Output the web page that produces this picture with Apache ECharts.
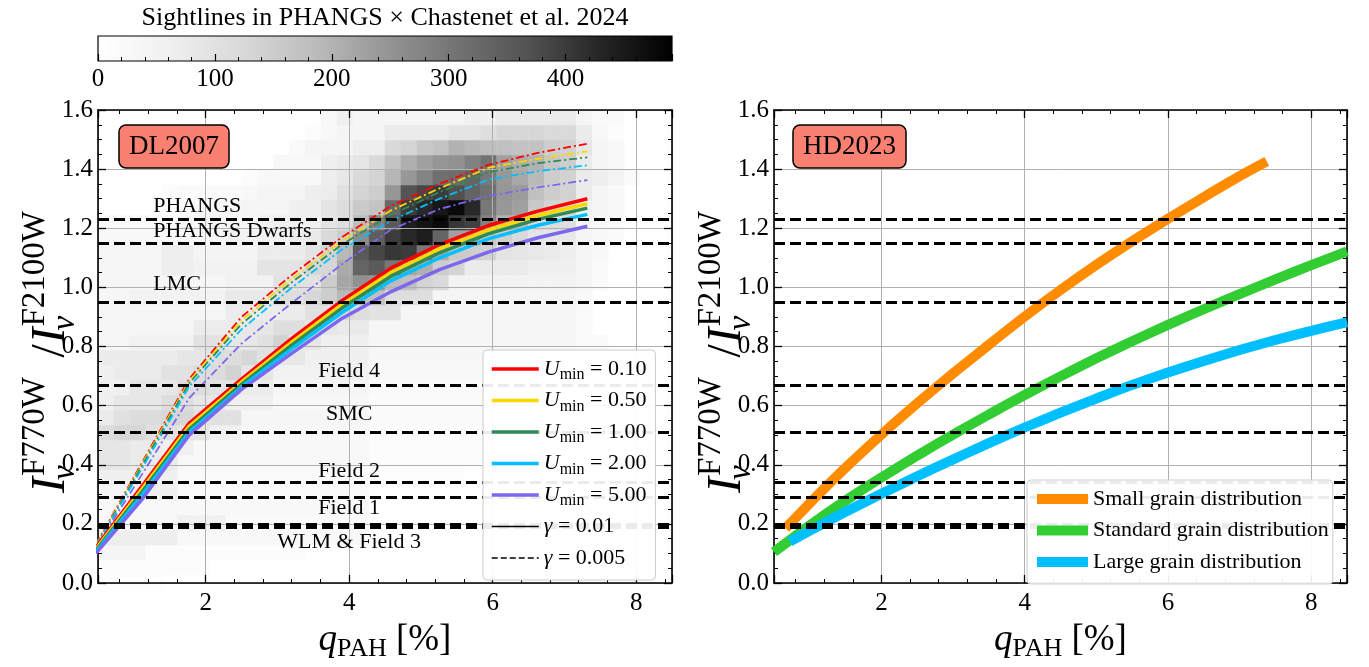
<!DOCTYPE html>
<html><head><meta charset="utf-8">
<script src="https://cdn.jsdelivr.net/npm/echarts@6/dist/echarts.min.js"></script>
<style>html,body{margin:0;padding:0;background:#fff}#c{width:1369px;height:667px}</style>
</head><body><div id="c"></div>
<script>
// ---------------- DATA ----------------
const qPAH = [0.47, 1.12, 1.77, 2.50, 3.19, 3.90, 4.58, 5.26, 5.95, 6.63, 7.32];
const uminValues = ['0.10', '0.50', '1.00', '2.00', '5.00'];
// gamma = 0.01 (solid)
const ratioG001_U010 = [0.12, 0.33, 0.54, 0.69, 0.825, 0.955, 1.065, 1.145, 1.21, 1.258, 1.30];
const ratioG001_U050 = [0.115, 0.32, 0.53, 0.68, 0.813, 0.942, 1.05, 1.13, 1.195, 1.243, 1.283];
const ratioG001_U100 = [0.11, 0.31, 0.52, 0.672, 0.803, 0.93, 1.037, 1.117, 1.182, 1.23, 1.268];
const ratioG001_U200 = [0.105, 0.30, 0.51, 0.663, 0.79, 0.915, 1.022, 1.10, 1.165, 1.21, 1.247];
const ratioG001_U500 = [0.10, 0.285, 0.50, 0.655, 0.775, 0.895, 0.985, 1.06, 1.12, 1.168, 1.207];
// gamma = 0.005 (dash-dot)
const ratioG0005_U010 = [0.13, 0.41, 0.69, 0.90, 1.04, 1.17, 1.275, 1.35, 1.415, 1.455, 1.486];
const ratioG0005_U050 = [0.128, 0.405, 0.683, 0.888, 1.027, 1.157, 1.26, 1.335, 1.405, 1.435, 1.46];
const ratioG0005_U100 = [0.126, 0.40, 0.676, 0.876, 1.015, 1.145, 1.245, 1.322, 1.39, 1.42, 1.44];
const ratioG0005_U200 = [0.124, 0.39, 0.664, 0.858, 0.997, 1.128, 1.225, 1.30, 1.365, 1.393, 1.413];
const ratioG0005_U500 = [0.12, 0.37, 0.625, 0.81, 0.945, 1.078, 1.195, 1.265, 1.31, 1.338, 1.363];
// HD2023
const hdNames = ['Small grain distribution', 'Standard grain distribution', 'Large grain distribution'];
const hdSmallQ = [0.66, 1.0, 1.5, 2.0, 2.5, 3.0, 3.5, 4.0, 4.5, 5.0, 5.5, 6.0, 6.5, 7.0, 7.38];
const hdSmall = [0.185, 0.27, 0.39, 0.502, 0.608, 0.709, 0.806, 0.901, 0.991, 1.076, 1.156, 1.232, 1.305, 1.376, 1.426];
const hdStandardQ = [0.5, 1.0, 1.5, 2.0, 2.5, 3.0, 3.5, 4.0, 4.5, 5.0, 5.5, 6.0, 6.5, 7.0, 7.5, 8.0, 8.5];
const hdStandard = [0.105, 0.195, 0.279, 0.357, 0.431, 0.502, 0.570, 0.636, 0.699, 0.760, 0.818, 0.873, 0.926, 0.977, 1.027, 1.075, 1.122];
const hdLargeQ = [0.72, 1.0, 1.5, 2.0, 2.5, 3.0, 3.5, 4.0, 4.5, 5.0, 5.5, 6.0, 6.5, 7.0, 7.5, 8.0, 8.5];
const hdLarge = [0.14, 0.177, 0.241, 0.302, 0.361, 0.418, 0.473, 0.526, 0.576, 0.624, 0.670, 0.712, 0.751, 0.788, 0.822, 0.853, 0.882];
// reference ratios (horizontal dashed lines)
const hlineValues = [1.23, 1.147, 0.955, 0.674, 0.511, 0.339, 0.294, 0.197, 0.186];
const regionNames = ['PHANGS', 'PHANGS Dwarfs', 'LMC', 'Field 4', 'SMC', 'Field 2', 'Field 1', 'WLM & Field 3'];
const regionLabelQ = [1.27, 1.27, 1.27, 4.0, 4.0, 4.0, 4.0, 4.0];
const regionLabelRatio = [1.273, 1.19, 1.01, 0.715, 0.57, 0.377, 0.253, 0.137];
// 2D histogram of sightlines: 36 bins in qPAH [0.5,8.5] x 32 bins in ratio [0,1.6]; rows from ratio=0 upward
const histCounts = [
[8,8,8,8,0,0, 0,0,0,0,0,0, 0,0,0,0,0,0, 0,0,0,0,0,0, 0,0,0,0,0,0, 0,0,0,0,0,0],
[12,12,12,12,12,12, 12,0,0,0,0,0, 0,0,0,0,0,0, 0,0,0,0,0,0, 0,0,0,0,0,0, 0,0,0,0,0,0],
[41,41,41,12,12,12, 12,12,12,12,12,12, 12,0,0,0,0,0, 0,0,0,0,0,0, 0,0,0,0,0,0, 0,0,0,0,0,0],
[67,67,67,67,67,29, 29,29,29,29,29,29, 29,29,29,29,29,0, 0,0,0,0,0,0, 0,0,0,0,0,0, 0,0,0,0,0,0],
[29,29,29,29,29,61, 61,61,21,21,21,21, 21,21,21,21,21,0, 0,0,0,0,0,0, 0,0,0,0,0,0, 0,0,0,0,0,0],
[29,29,29,29,29,29, 29,29,29,29,29,29, 29,29,29,29,29,0, 0,0,0,0,0,0, 0,0,0,0,0,0, 0,0,0,0,0,0],
[41,41,61,61,61,21, 21,21,21,21,21,21, 21,21,21,21,21,0, 0,0,0,0,0,0, 0,0,0,0,0,0, 0,0,0,0,0,0],
[61,61,61,61,61,21, 21,21,21,21,21,21, 21,21,21,21,21,8, 8,8,8,8,8,0, 0,0,0,0,0,0, 0,0,0,0,0,0],
[88,88,75,75,75,29, 29,29,29,29,29,29, 29,29,29,29,29,12, 12,12,12,12,12,12, 12,0,0,0,0,0, 0,0,0,0,0,0],
[88,88,75,75,61,61, 29,29,29,29,29,29, 29,29,29,29,29,12, 12,12,12,12,12,12, 12,12,12,0,0,0, 0,0,0,0,0,0],
[115,127,127,102,102,88, 88,61,61,29,29,29, 29,29,29,29,29,12, 12,12,12,12,12,12, 12,12,12,12,12,0, 0,0,0,0,0,0],
[75,102,115,115,127,127, 102,102,102,37,37,37, 37,37,37,37,37,17, 17,17,17,17,17,17, 17,17,17,17,17,0, 0,0,0,0,0,0],
[61,85,85,85,112,112, 85,85,61,61,61,29, 29,29,29,29,29,17, 17,17,17,17,17,17, 17,17,17,17,17,0, 0,0,0,0,0,0],
[61,61,85,85,85,112, 112,99,99,72,72,41, 41,41,41,41,41,21, 21,21,21,21,21,21, 21,21,21,21,21,21, 0,0,0,0,0,0],
[61,75,75,75,99,99, 115,115,138,88,88,54, 54,54,54,54,54,29, 29,29,29,29,29,29, 29,29,29,29,29,29, 0,0,0,0,0,0],
[72,72,72,72,72,88, 88,112,112,127,102,85, 85,61,61,61,61,33, 33,33,33,33,33,33, 33,33,33,33,33,33, 0,0,0,0,0,0],
[37,37,54,54,54,54, 99,99,85,85,102,138, 88,88,61,61,61,37, 37,37,37,37,37,37, 37,37,37,37,37,37, 21,21,0,0,0,0],
[37,37,37,37,37,37, 72,72,72,85,85,109, 109,88,88,77,77,37, 37,37,37,37,37,37, 37,37,37,37,37,37, 21,0,0,0,0,0],
[37,37,37,37,37,37, 37,37,72,72,72,72, 72,104,104,120,109,99, 99,37,37,37,37,37, 37,37,37,37,37,37, 21,0,0,0,0,0],
[37,37,54,54,54,54, 54,54,80,80,80,109, 109,127,149,190,185,178, 109,109,109,41,41,41, 41,41,41,41,41,41, 29,0,0,0,0,0],
[37,37,37,37,37,37, 37,37,54,54,54,99, 99,99,149,222,254,245, 185,178,134,120,51,51, 51,51,51,51,51,51, 37,21,0,0,0,0],
[37,37,37,37,67,67, 54,54,54,54,93,93, 93,127,127,214,335,354, 298,217,206,149,134,75, 75,75,75,61,61,61, 41,21,0,0,0,0],
[37,37,37,37,67,67, 47,47,47,47,72,72, 72,93,134,190,354,384, 405,398,298,214,156,149, 138,93,88,83,75,67, 41,29,0,0,0,0],
[29,29,29,29,29,29, 29,29,54,54,54,54, 72,77,120,149,263,345, 398,426,441,335,230,227, 160,143,120,93,88,83, 41,29,21,0,0,0],
[21,21,21,21,21,37, 37,37,37,37,61,61, 61,61,93,109,182,280, 354,441,458,474,405,391, 280,201,190,120,115,109, 41,29,21,0,0,0],
[0,0,0,0,0,12, 29,29,29,41,41,41, 61,61,93,115,156,171, 326,398,426,455,474,426, 298,242,230,160,134,127, 61,41,29,0,0,0],
[0,0,0,0,12,21, 21,21,21,29,41,41, 41,67,72,102,134,149, 245,363,384,398,371,335, 313,245,238,178,149,138, 75,41,29,0,0,0],
[0,0,0,0,0,0, 0,0,0,12,29,29, 29,29,67,83,120,134, 195,242,277,313,320,335, 298,242,217,190,149,138, 75,67,51,21,0,0],
[0,0,0,0,0,0, 0,0,0,0,0,29, 29,29,61,75,88,120, 171,206,230,245,254,280, 307,230,211,201,165,149, 75,41,29,0,0,0],
[0,0,0,0,0,0, 0,0,0,0,0,0, 21,41,41,41,67,67, 120,132,160,171,201,190, 182,178,171,171,149,143, 88,41,29,0,0,0],
[0,0,0,0,0,0, 0,0,0,0,0,0, 0,12,29,41,41,41, 75,75,75,75,93,93, 109,127,127,127,120,120, 75,29,12,0,0,0],
[0,0,0,0,0,0, 0,0,0,0,0,0, 0,0,29,61,41,41, 41,41,41,41,41,61, 61,75,75,75,75,75, 41,21,21,0,0,0]
];
const colorbarMax = 491;
const colorbarTicks = [0, 100, 200, 300, 400];

// ---------------- STYLE ----------------
const FONT = '"Liberation Serif", "DejaVu Serif", serif';
const uminColors = ['#ff0000', '#ffd700', '#2e8b57', '#00bfff', '#7b68ee'];
const hdColors = ['#ff8c00', '#32cd32', '#00bfff'];
const greys = ['#ffffff', '#f0f0f0', '#d9d9d9', '#bdbdbd', '#969696', '#737373', '#525252', '#252525', '#000000'];
const solidSets = [ratioG001_U010, ratioG001_U050, ratioG001_U100, ratioG001_U200, ratioG001_U500];
const dashSets = [ratioG0005_U010, ratioG0005_U050, ratioG0005_U100, ratioG0005_U200, ratioG0005_U500];
const zip = (xs, ys) => xs.map((x, i) => [x, ys[i]]);

const chart = echarts.init(document.getElementById('c'), null, { renderer: 'canvas' });

const xName = '{q|q}{s|PAH}{t| [%]}';
const xNameStyle = {
  color: '#000',
  rich: {
    q: { fontFamily: FONT, fontStyle: 'italic', fontSize: 37, lineHeight: 44, color: '#000' },
    s: { fontFamily: FONT, fontSize: 26, lineHeight: 26, verticalAlign: 'bottom', color: '#000' },
    t: { fontFamily: FONT, fontSize: 37, lineHeight: 44, color: '#000' }
  }
};

function xMain(g, pos, show) {
  return {
    type: 'value', gridIndex: g, position: pos, min: 0.5, max: 8.5, splitNumber: 4, z: 1,
    name: show ? xName : '', nameLocation: 'middle', nameGap: 35, nameTextStyle: xNameStyle,
    axisLine: { show: true, onZero: false, lineStyle: { color: '#000', width: 1.6 } },
    axisTick: { show: true, inside: true, length: 8, lineStyle: { color: '#000', width: 1.3 } },
    minorTick: { show: true, splitNumber: 5, length: 4, lineStyle: { color: '#000', width: 1 } },
    axisLabel: {
      show: show, margin: 8, fontFamily: FONT, fontSize: 25, color: '#000',
      formatter: v => {
        const r = Math.round(v);
        return (Math.abs(v - r) < 1e-6 && r % 2 === 0) ? String(r) : '';
      }
    },
    splitLine: { show: show, lineStyle: { color: '#b0b0b0', width: 1 } }
  };
}
function yMain(g, pos, show) {
  return {
    type: 'value', gridIndex: g, position: pos, min: 0, max: 1.6, interval: 0.2, z: 1,
    axisLine: { show: true, onZero: false, lineStyle: { color: '#000', width: 1.6 } },
    axisTick: { show: true, inside: true, length: 8, lineStyle: { color: '#000', width: 1.3 } },
    minorTick: { show: true, splitNumber: 4, length: 4, lineStyle: { color: '#000', width: 1 } },
    axisLabel: { show: show, margin: 5, fontFamily: FONT, fontSize: 25, color: '#000', formatter: v => v.toFixed(1) },
    splitLine: { show: show, lineStyle: { color: '#b0b0b0', width: 1 } }
  };
}

const heatData = [];
histCounts.forEach((row, j) => row.forEach((c, i) => { if (c > 0) heatData.push([i, j, c]); }));

const series = [];
// 0: heatmap
series.push({
  type: 'heatmap', xAxisIndex: 4, yAxisIndex: 4, data: heatData, z: 0, silent: true,
  itemStyle: { borderWidth: 0 }, emphasis: { disabled: true }
});
// 1: colorbar
series.push({
  type: 'custom', xAxisIndex: 5, yAxisIndex: 5, data: [[0, colorbarMax]], silent: true, z: 0,
  encode: { x: [0, 1] },
  renderItem: (params, api) => {
    const p0 = api.coord([api.value(0), 0]);
    const p1 = api.coord([api.value(1), 1]);
    return {
      type: 'rect',
      shape: { x: p0[0], y: p1[1], width: p1[0] - p0[0], height: p0[1] - p1[1] },
      style: {
        fill: new echarts.graphic.LinearGradient(0, 0, 1, 0, greys.map((c, i) => ({ offset: i / (greys.length - 1), color: c }))),
        stroke: '#000', lineWidth: 1.2
      }
    };
  }
});
// dash-dot (gamma = 0.005)
dashSets.forEach((arr, k) => series.push({
  type: 'line', name: 'dd' + k, xAxisIndex: 0, yAxisIndex: 0, data: zip(qPAH, arr), symbol: 'none', z: 3,
  lineStyle: { color: uminColors[k], width: 1.8, type: [8, 3, 2, 3] }, silent: true
}));
// solid (gamma = 0.01)
solidSets.forEach((arr, k) => series.push({
  type: 'line', name: 'U' + uminValues[k], xAxisIndex: 0, yAxisIndex: 0, data: zip(qPAH, arr), symbol: 'none', z: 3,
  lineStyle: { color: uminColors[k], width: 3.5 }, silent: true
}));
// gamma legend entries
series.push({ type: 'line', name: 'g001', xAxisIndex: 0, yAxisIndex: 0, data: [], symbol: 'none', lineStyle: { color: '#000', width: 1.5 } });
series.push({ type: 'line', name: 'g0005', xAxisIndex: 0, yAxisIndex: 0, data: [], symbol: 'none', lineStyle: { color: '#000', width: 1.5, type: 'dashed' } });
// horizontal reference lines
[0, 1].forEach(g => series.push({
  type: 'line', xAxisIndex: g * 2, yAxisIndex: g * 2, data: [], z: 4, silent: true,
  markLine: {
    silent: true, symbol: ['none', 'none'], label: { show: false }, animation: false, z: 4,
    lineStyle: { color: '#000', width: 3, type: [11, 5] },
    emphasis: { disabled: true },
    data: hlineValues.map(v => ({ yAxis: v }))
  }
}));
// region labels (text placed through the axis scales)
series.push({
  type: 'custom', xAxisIndex: 0, yAxisIndex: 0, silent: true, z: 5,
  data: regionNames.map((n, i) => [regionLabelQ[i], regionLabelRatio[i], i]),
  renderItem: (params, api) => {
    const p = api.coord([api.value(0), api.value(1)]);
    const i = api.value(2);
    return {
      type: 'text', x: p[0], y: p[1],
      style: { text: regionNames[i], align: i < 3 ? 'left' : 'center', verticalAlign: 'middle', fill: '#000', font: '22px ' + FONT }
    };
  }
});
// HD2023 curves
[[hdSmallQ, hdSmall], [hdStandardQ, hdStandard], [hdLargeQ, hdLarge]].forEach((d, k) => series.push({
  type: 'line', name: hdNames[k], xAxisIndex: 2, yAxisIndex: 2, data: zip(d[0], d[1]), symbol: 'none', z: 3,
  smooth: 0.2, lineStyle: { color: hdColors[k], width: 10 }, silent: true
}));

// y-axis label builder (I_nu^F770W / I_nu^F2100W), rotated
function yLabel(x0, yCenter) {
  const M = 48, S = 33;
  const mid = (b, s) => b - 0.34 * s;
  const t = (text, x, base, size, italic) => ({
    type: 'text', style: {
      text: text, x: x, y: mid(base, size), fill: '#000', align: 'left', verticalAlign: 'middle',
      font: (italic ? 'italic ' : '') + size + 'px ' + FONT
    }
  });
  const supW = 3.5 * S;
  const a = 17, b = a + supW + 3, c = b + 14, d = c + 17;
  const total = d + supW;
  return {
    type: 'group', x: x0, y: yCenter + total / 2, rotation: Math.PI / 2, silent: true,
    children: [
      t('I', 0, 0, M, true), t('F770W', a, -21, S, false), t('ν', a - 4, 9, S, true),
      t('/', b, 0, M, false),
      t('I', c, 0, M, true), t('F2100W', d, -21, S, false), t('ν', d - 4, 9, S, true)
    ]
  };
}

const legendTextStyle = {
  fontFamily: FONT, fontSize: 22, color: '#000', lineHeight: 28,
  rich: {
    u: { fontFamily: FONT, fontStyle: 'italic', fontSize: 22, lineHeight: 28, color: '#000' },
    g: { fontFamily: FONT, fontStyle: 'italic', fontSize: 22, lineHeight: 28, color: '#000' },
    s: { fontFamily: FONT, fontSize: 16, lineHeight: 16, verticalAlign: 'bottom', color: '#000' },
    t: { fontFamily: FONT, fontSize: 22, lineHeight: 28, color: '#000' }
  }
};

const option = {
  animation: false,
  backgroundColor: '#ffffff',
  grid: [
    { left: 98, top: 110, width: 574, height: 480 },
    { left: 774, top: 110, width: 573, height: 480 },
    { left: 98, top: 110, width: 574, height: 480 },
    { left: 98, top: 36, width: 574, height: 25 }
  ],
  xAxis: [
    xMain(0, 'bottom', true), xMain(0, 'top', false),
    xMain(1, 'bottom', true), xMain(1, 'top', false),
    { type: 'category', gridIndex: 2, show: false, boundaryGap: true, data: histCounts[0].map((_, i) => 'x' + i) },
    {
      type: 'value', gridIndex: 3, min: 0, max: colorbarMax, interval: 100, position: 'bottom',
      axisLine: { show: false },
      axisTick: { show: true, inside: true, length: 7, lineStyle: { color: '#000', width: 1.2 } },
      minorTick: { show: true, splitNumber: 5, length: 4, lineStyle: { color: '#000', width: 1 } },
      axisLabel: {
        show: true, margin: 6, fontFamily: FONT, fontSize: 25, color: '#000', showMaxLabel: false,
        formatter: v => (colorbarTicks.indexOf(v) >= 0 ? String(v) : '')
      },
      splitLine: { show: false }, z: 2
    }
  ],
  yAxis: [
    yMain(0, 'left', true), yMain(0, 'right', false),
    yMain(1, 'left', true), yMain(1, 'right', false),
    { type: 'category', gridIndex: 2, show: false, boundaryGap: true, data: histCounts.map((_, j) => 'y' + j) },
    { type: 'value', gridIndex: 3, min: 0, max: 1, show: false }
  ],
  visualMap: [{
    type: 'continuous', min: 0, max: colorbarMax, seriesIndex: 0, show: false,
    inRange: { color: greys }
  }],
  title: [
    {
      text: 'DL2007', left: 119, top: 125, padding: [5, 10, 5, 10],
      backgroundColor: '#fa8072', borderColor: '#000', borderWidth: 1.5, borderRadius: 7,
      textStyle: { fontFamily: FONT, fontSize: 27, fontWeight: 'normal', color: '#000', lineHeight: 33 }
    },
    {
      text: 'HD2023', left: 793, top: 125, padding: [5, 10, 5, 10],
      backgroundColor: '#fa8072', borderColor: '#000', borderWidth: 1.5, borderRadius: 7,
      textStyle: { fontFamily: FONT, fontSize: 27, fontWeight: 'normal', color: '#000', lineHeight: 33 }
    }
  ],
  legend: [
    {
      left: 483, top: 350, orient: 'vertical', selectedMode: false, z: 20,
      padding: [5, 9, 8, 7], itemWidth: 47, itemHeight: 14, itemGap: 3.5, itemTextGap: 16,
      backgroundColor: 'rgba(255,255,255,0.92)', borderColor: '#cccccc', borderWidth: 1, borderRadius: 4,
      textStyle: legendTextStyle,
      formatter: name => {
        if (name.charAt(0) === 'U') return '{u|U}{s|min}{t| = ' + name.slice(1) + '}';
        if (name === 'g001') return '{g|γ}{t| = 0.01}';
        return '{g|γ}{t| = 0.005}';
      },
      data: uminValues.map((u, k) => ({
        name: 'U' + u, itemStyle: { opacity: 0 },
        lineStyle: { color: uminColors[k], width: 3.5, type: 'solid' }
      })).concat([
        { name: 'g001', itemStyle: { opacity: 0 }, lineStyle: { color: '#000', width: 1.5, type: 'solid' } },
        { name: 'g0005', itemStyle: { opacity: 0 }, lineStyle: { color: '#000', width: 1.5, type: 'dashed' } }
      ])
    },
    {
      left: 1027, top: 480, orient: 'vertical', selectedMode: false, z: 20,
      padding: [5, 4, 8, 5], itemWidth: 51, itemHeight: 12, itemGap: 3.5, itemTextGap: 14,
      backgroundColor: 'rgba(255,255,255,0.92)', borderColor: '#cccccc', borderWidth: 1, borderRadius: 4,
      textStyle: { fontFamily: FONT, fontSize: 22, color: '#000', lineHeight: 28 },
      data: hdNames.map((n, k) => ({
        name: n, itemStyle: { opacity: 0 },
        lineStyle: { color: hdColors[k], width: 10, type: 'solid' }
      }))
    }
  ],
  graphic: [
    {
      type: 'text', silent: true, x: 385, y: 18,
      style: {
        text: 'Sightlines in PHANGS × Chastenet et al. 2024', x: 0, y: 0,
        align: 'center', verticalAlign: 'middle', fill: '#000', font: '26px ' + FONT
      }
    },
    yLabel(68, 352),
    yLabel(744, 352)
  ],
  series: series
};
chart.setOption(option);
</script>
</body></html>
